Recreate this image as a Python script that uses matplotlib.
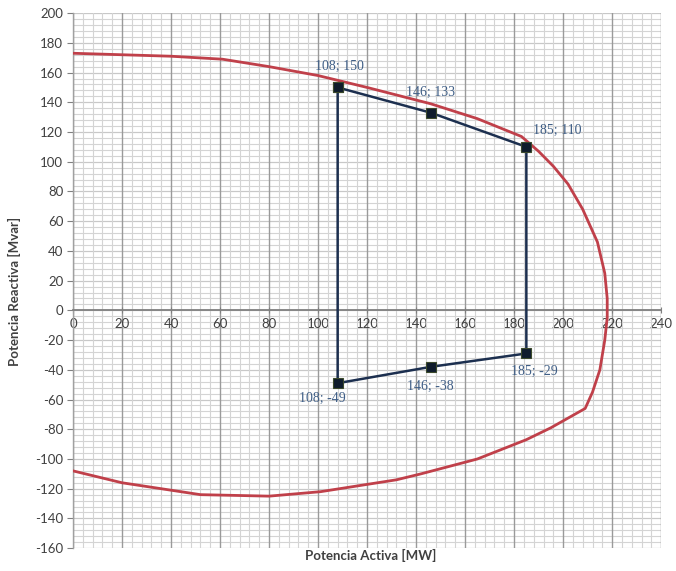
import matplotlib
matplotlib.use("Agg")
import matplotlib.pyplot as plt
from matplotlib.ticker import MultipleLocator

plt.rcParams["axes.unicode_minus"] = False

# Capability curve (red)
curve_p = [0, 20, 40, 61, 80, 100, 120, 146, 165, 183, 190, 196, 202, 208, 214, 217, 218,
           218, 217, 215, 212, 209, 195, 185, 165, 142, 132, 101, 80, 52, 20, 0]
curve_q = [173, 172, 171, 169, 164, 158, 150, 139, 129, 117, 107, 97, 85, 68, 46, 25, 8,
           -5, -20, -40, -55, -66, -79, -87, -100, -110, -114, -122, -125, -124, -116, -108]

# Operating region (blue)
op_p = [108, 146, 185, 185, 146, 108, 108]
op_q = [150, 133, 110, -29, -38, -49, 150]
op_labels = ["108; 150", "146; 133", "185; 110", "185; -29", "146; -38", "108; -49"]
label_offsets = [(1, 15), (0, 14.5), (22, 12), (6, -13), (0, -14), (-11, -11)]

x_ticks = list(range(0, 241, 20))
y_ticks = list(range(-160, 201, 20))

fig = plt.figure(figsize=(6.76, 5.71), dpi=100)
ax = fig.add_axes([0.108, 0.040, 0.870, 0.937])

ax.set_xlim(0, 240)
ax.set_ylim(-160, 200)
ax.xaxis.set_minor_locator(MultipleLocator(4))
ax.yaxis.set_minor_locator(MultipleLocator(4))
ax.set_xticks(x_ticks)
ax.set_yticks(y_ticks)

ax.grid(which="minor", axis="both", color="#d4d4d4", linewidth=0.8)
ax.grid(which="major", axis="x", color="#9a9a9a", linewidth=1.0)
ax.grid(which="major", axis="y", color="#c8c8c8", linewidth=0.9)
ax.set_axisbelow(True)
ax.yaxis.set_zorder(0.4)

for s in ["top", "right"]:
    ax.spines[s].set_visible(False)
ax.spines["bottom"].set_position(("data", 0))
ax.spines["bottom"].set_color("#808080")
ax.spines["bottom"].set_linewidth(1.3)
ax.spines["left"].set_color("#a0a0a0")
ax.spines["left"].set_linewidth(1.0)

ax.tick_params(axis="x", which="major", direction="inout", length=5, color="#808080",
               labelsize=9.5, labelcolor="#404040", pad=3)
ax.tick_params(axis="y", which="major", direction="out", length=4, color="#808080",
               labelsize=9.5, labelcolor="#404040", pad=3)
ax.tick_params(which="minor", length=0)
for lab in ax.get_xticklabels() + ax.get_yticklabels():
    lab.set_family("Lato")

ax.plot(curve_p, curve_q, color="#c0404a", linewidth=2.0, zorder=3)
ax.plot(op_p, op_q, color="#1c2f4f", linewidth=1.8, marker="s", markersize=6.5,
        markerfacecolor="#0f1c2c", markeredgecolor="#3c4a2c", markeredgewidth=0.8, zorder=4)

for p, q, t, off in zip(op_p[:-1], op_q[:-1], op_labels, label_offsets):
    ax.annotate(t, (p, q), xytext=off, textcoords="offset points", ha="center", va="center",
                fontsize=10, color="#3f5e86", family="Liberation Serif", zorder=5)

fig.text(0.548, 0.028, "Potencia Activa [MW]", ha="center", va="center", fontsize=9.5,
         fontweight="bold", color="#404040", family="Lato")
fig.text(0.021, 0.49, "Potencia Reactiva [Mvar]", ha="center", va="center", rotation=90,
         fontsize=9.5, fontweight="bold", color="#404040", family="Lato")

fig.savefig("out.png", dpi=100)
